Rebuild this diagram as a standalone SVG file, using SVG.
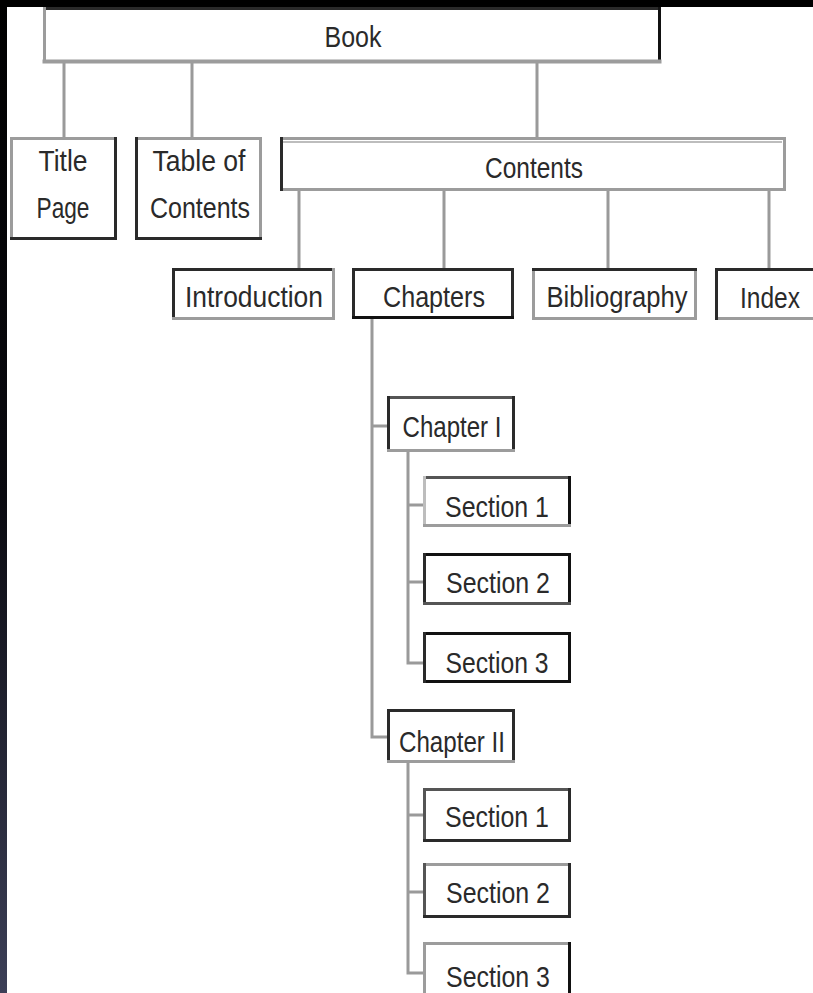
<svg xmlns="http://www.w3.org/2000/svg" width="813" height="993" viewBox="0 0 813 993">
<defs>
<linearGradient id="side" x1="0" y1="0" x2="0" y2="1">
<stop offset="0" stop-color="#000"/>
<stop offset="0.5" stop-color="#0a0a10"/>
<stop offset="1" stop-color="#3c3f57"/>
</linearGradient>
<style>
.bg{fill:#fff;stroke:none}
.e{fill:none;stroke-width:3;stroke-linecap:square}
.k{stroke:#111}
.d{stroke:#2a2a2a}
.m{stroke:#555}
.g{stroke:#9c9c9c}
.l{stroke:#bdbdbd}
.c{fill:none;stroke:#9a9a9a;stroke-width:3}
text{font-family:"Liberation Sans",Arial,sans-serif;font-size:30px;fill:#2a2a2a;text-anchor:middle}
</style>
</defs>
<rect x="0" y="0" width="813" height="993" fill="#fff"/>
<rect x="0" y="0" width="7" height="993" fill="url(#side)"/>
<rect x="0" y="0" width="813" height="7" fill="#000"/>

<g id="connectors">
<path class="c" d="M64 63V137M192 63V137M537 63V137"/>
<path class="c" d="M299 191V268M444 191V268M608 191V268M769 191V268"/>
<path class="c" d="M372 319V737H387M372 426H387"/>
<path class="c" d="M408 452V663H423M408 505H423M408 582H423"/>
<path class="c" d="M408 763V973H423M408 815H423M408 892H423"/>
</g>

<g id="book">
<rect class="bg" x="43" y="7" width="618" height="56"/>
<path class="e d" d="M44.5 8.5H659.5"/>
<path class="e k" d="M659.5 8.5V61.5"/>
<path class="e g" d="M44.5 61.5H659.5" style="stroke-width:4"/>
<path class="e g" d="M44.5 8.5V61.5"/>
<text x="353" y="47" textLength="57" lengthAdjust="spacingAndGlyphs">Book</text>
</g>

<g id="title-page">
<rect class="bg" x="10" y="137" width="107" height="103"/>
<path class="e g" d="M11.5 138.5H115.5M11.5 138.5V238.5"/>
<path class="e d" d="M115.5 138.5V238.5M11.5 238.5H115.5"/>
<text x="63" y="171" textLength="49" lengthAdjust="spacingAndGlyphs">Title</text>
<text x="63" y="218" textLength="53" lengthAdjust="spacingAndGlyphs">Page</text>
</g>

<g id="table-of-contents">
<rect class="bg" x="135" y="137" width="127" height="103"/>
<path class="e g" d="M136.5 138.5H260.5M260.5 138.5V238.5"/>
<path class="e d" d="M136.5 138.5V238.5M136.5 238.5H260.5"/>
<text x="199" y="171" textLength="93" lengthAdjust="spacingAndGlyphs">Table of</text>
<text x="200" y="218" textLength="100" lengthAdjust="spacingAndGlyphs">Contents</text>
</g>

<g id="contents">
<rect class="bg" x="280" y="137" width="506" height="54"/>
<path class="e g" d="M281.5 138.5H784.5M784.5 138.5V189.5M281.5 189.5H784.5"/>
<path class="e l" d="M284 142H781" style="stroke-width:2"/>
<path class="e d" d="M281.5 138.5V189.5"/>
<text x="534" y="178" textLength="98" lengthAdjust="spacingAndGlyphs">Contents</text>
</g>

<g id="introduction">
<rect class="bg" x="172" y="268" width="163" height="52"/>
<path class="e d" d="M173.5 269.5H333.5M173.5 269.5V318.5"/>
<path class="e g" d="M333.5 269.5V318.5M173.5 318.5H333.5"/>
<text x="254" y="307" textLength="138" lengthAdjust="spacingAndGlyphs">Introduction</text>
</g>

<g id="chapters">
<rect class="bg" x="352" y="268" width="162" height="51"/>
<path class="e d" d="M353.5 269.5H512.5V317.5M353.5 269.5V317.5"/>
<path class="e k" d="M353.5 317.5H512.5"/>
<text x="434" y="307" textLength="102" lengthAdjust="spacingAndGlyphs">Chapters</text>
</g>

<g id="bibliography">
<rect class="bg" x="532" y="268" width="165" height="52"/>
<path class="e g" d="M533.5 269.5V318.5H695.5V269.5"/>
<path class="e d" d="M533.5 269.5H695.5"/>
<text x="617" y="307" textLength="141" lengthAdjust="spacingAndGlyphs">Bibliography</text>
</g>

<g id="index">
<rect class="bg" x="715" y="268" width="110" height="52"/>
<path class="e g" d="M716.5 318.5H820"/>
<path class="e d" d="M716.5 269.5H820M716.5 269.5V318.5"/>
<text x="770" y="308" textLength="60" lengthAdjust="spacingAndGlyphs">Index</text>
</g>

<g id="chapter-1">
<rect class="bg" x="387" y="396" width="128" height="56"/>
<path class="e m" d="M388.5 397.5H513.5"/>
<path class="e d" d="M388.5 397.5V450.5M513.5 397.5V450.5"/>
<path class="e g" d="M388.5 450.5H513.5"/>
<text x="452" y="437" textLength="99" lengthAdjust="spacingAndGlyphs">Chapter I</text>
</g>

<g id="ch1-section-1">
<rect class="bg" x="423" y="476" width="148" height="51"/>
<path class="e m" d="M424.5 477.5H569.5"/>
<path class="e l" d="M424.5 477.5V525.5"/>
<path class="e k" d="M569.5 477.5V525.5"/>
<path class="e g" d="M424.5 525.5H569.5"/>
<text x="497" y="517" textLength="104" lengthAdjust="spacingAndGlyphs">Section 1</text>
</g>

<g id="ch1-section-2">
<rect class="bg" x="423" y="553" width="148" height="52"/>
<path class="e k" d="M424.5 554.5H569.5V603.5"/>
<path class="e d" d="M424.5 554.5V603.5"/>
<path class="e m" d="M424.5 603.5H569.5"/>
<text x="498" y="593" textLength="104" lengthAdjust="spacingAndGlyphs">Section 2</text>
</g>

<g id="ch1-section-3">
<rect class="bg" x="423" y="632" width="148" height="51"/>
<path class="e k" d="M424.5 633.5H569.5V681.5H424.5"/>
<path class="e d" d="M424.5 633.5V681.5"/>
<text x="497" y="673" textLength="103" lengthAdjust="spacingAndGlyphs">Section 3</text>
</g>

<g id="chapter-2">
<rect class="bg" x="387" y="709" width="128" height="54"/>
<path class="e d" d="M388.5 710.5H513.5V761.5M388.5 710.5V761.5"/>
<path class="e g" d="M388.5 761.5H513.5"/>
<text x="452" y="752" textLength="106" lengthAdjust="spacingAndGlyphs">Chapter II</text>
</g>

<g id="ch2-section-1">
<rect class="bg" x="423" y="788" width="148" height="54"/>
<path class="e m" d="M424.5 789.5H569.5"/>
<path class="e m" d="M424.5 789.5V840.5"/>
<path class="e d" d="M569.5 789.5V840.5M424.5 840.5H569.5"/>
<text x="497" y="827" textLength="104" lengthAdjust="spacingAndGlyphs">Section 1</text>
</g>

<g id="ch2-section-2">
<rect class="bg" x="423" y="863" width="148" height="55"/>
<path class="e g" d="M424.5 864.5H569.5"/>
<path class="e m" d="M424.5 864.5V916.5"/>
<path class="e d" d="M569.5 864.5V916.5M424.5 916.5H569.5"/>
<text x="498" y="903" textLength="104" lengthAdjust="spacingAndGlyphs">Section 2</text>
</g>

<g id="ch2-section-3">
<rect class="bg" x="423" y="942" width="148" height="60"/>
<path class="e g" d="M424.5 943.5H569.5M424.5 943.5V1000"/>
<path class="e k" d="M569.5 943.5V1000"/>
<text x="498" y="987" textLength="104" lengthAdjust="spacingAndGlyphs">Section 3</text>
</g>
</svg>
